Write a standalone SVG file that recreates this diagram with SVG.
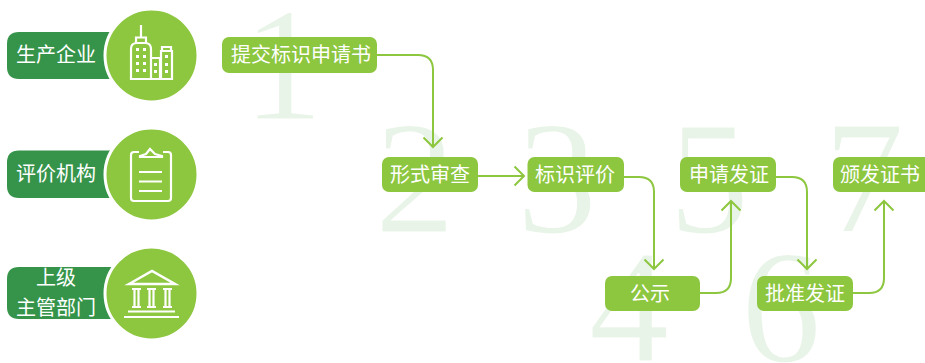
<svg xmlns="http://www.w3.org/2000/svg" width="925" height="363" viewBox="0 0 925 363">
<defs>
<style>
.d{font-family:"Liberation Serif",serif;font-size:161px;fill:#e9f4e8;stroke:#fff;stroke-width:1.2px;text-anchor:middle}
.t{font-family:"Noto Sans CJK SC","Noto Sans",sans-serif;font-size:20px;fill:#fff;text-anchor:middle}
.b{fill:#8dc63f}
.p{fill:#35944a}
.c{fill:#8dc63f;stroke:#fff;stroke-width:3}
.i{fill:none;stroke:#fff;stroke-width:2.200}
.w{fill:#fff}
.l{fill:none;stroke:#8dc63f;stroke-width:2}
</style>
<marker id="a" viewBox="-11 -11 13 22" markerUnits="userSpaceOnUse" markerWidth="13" markerHeight="22" refX="0" refY="0" orient="auto" overflow="visible">
<path d="M-9.500-9.500L0 0L-9.500 9.500" fill="none" stroke="#8dc63f" stroke-width="2"/>
</marker>
</defs>
<rect width="925" height="363" fill="#fff"/>
<g id="digits">
<text class="d" x="283" y="119">1</text>
<text class="d" x="415" y="232">2</text>
<text class="d" x="557" y="232">3</text>
<text class="d" x="629" y="361">4</text>
<text class="d" x="709" y="232">5</text>
<text class="d" x="781" y="361">6</text>
<text class="d" x="864" y="232">7</text>
</g>
<g id="connectors">
<path class="l" marker-end="url(#a)" d="M377 55H418Q433 55 433 70V147"/>
<path class="l" marker-end="url(#a)" d="M478 176H524"/>
<path class="l" marker-end="url(#a)" d="M624 177H639Q654 177 654 192V269"/>
<path class="l" marker-end="url(#a)" d="M700 293H716Q731 293 731 278V201"/>
<path class="l" marker-end="url(#a)" d="M776 177H792Q807 177 807 192V269"/>
<path class="l" marker-end="url(#a)" d="M853 293H869Q884 293 884 278V201"/>
</g>
<g id="org1">
<path class="p" d="M19 32H125V79H19Q7 79 7 67V44Q7 32 19 32Z"/>
<text class="t" x="56" y="62">生产企业</text>
<circle class="c" cx="151.500" cy="55.500" r="46.500"/>
<g class="i">
<path d="M141 25V37M136 43V37.500H146V43"/>
<path d="M131 79V49Q131 43 137 43H145Q151 43 151 49V79Z"/>
<path d="M151 58H160V79M161 79V51H172V79H131M162 51V47H171V51"/>
</g>
<g class="w">
<rect x="136" y="48" width="3" height="3"/><rect x="143" y="48" width="3" height="3"/>
<rect x="136" y="55" width="3" height="3"/><rect x="143" y="55" width="3" height="3"/>
<rect x="136" y="62" width="3" height="3"/><rect x="143" y="62" width="3" height="3"/>
<rect x="136" y="69" width="3" height="3"/><rect x="143" y="69" width="3" height="3"/>
<rect x="154" y="63" width="3" height="3"/><rect x="154" y="70" width="3" height="3"/>
<rect x="165" y="55" width="3" height="3"/><rect x="165" y="63" width="3" height="3"/><rect x="165" y="70" width="3" height="3"/>
</g>
</g>
<g id="org2">
<path class="p" d="M19 150.500H125V198H19Q7 198 7 186V162.500Q7 150.500 19 150.500Z"/>
<text class="t" x="56" y="181">评价机构</text>
<circle class="c" cx="151.500" cy="174.500" r="46.500"/>
<g class="i">
<path d="M139 152H134Q131 152 131 155V198Q131 201 134 201H168Q171 201 171 198V155Q171 152 168 152H163"/>
<path d="M140 156L146 154L150 149L155 154L162 156L162 157H140Z"/>
<path d="M139 172H162M139 181.500H162M139 191H162"/>
</g>
</g>
<g id="org3">
<path class="p" d="M19 267H125V319H19Q7 319 7 307V279Q7 267 19 267Z"/>
<text class="t" x="56" y="285">上级</text>
<text class="t" x="56" y="315">主管部门</text>
<circle class="c" cx="151.500" cy="293.500" r="46.500"/>
<g class="i">
<path d="M129 284L152 271L175 284Z" stroke-width="2.500"/>
<path d="M132 289H141M147 289H156M163 289H172M132 307H141M147 307H156M163 307H172"/>
<path d="M134.500 288V308M138.500 288V308M149.500 288V308M153.500 288V308M165.500 288V308M169.500 288V308"/>
<path d="M128 311.500H175M124 317H179"/>
</g>
</g>
<g id="s1"><rect class="b" x="222" y="37" width="155" height="36" rx="7"/><text class="t" x="301" y="62">提交标识申请书</text></g>
<g id="s2"><rect class="b" x="382" y="157" width="96" height="35" rx="7"/><text class="t" x="430" y="182">形式审查</text></g>
<g id="s3"><rect class="b" x="527.500" y="157" width="96.500" height="35" rx="7"/><text class="t" x="575" y="182">标识评价</text></g>
<g id="s4"><rect class="b" x="605" y="276" width="95" height="35" rx="7"/><text class="t" x="650" y="301">公示</text></g>
<g id="s5"><rect class="b" x="680" y="157" width="96" height="35" rx="7"/><text class="t" x="729" y="182">申请发证</text></g>
<g id="s6"><rect class="b" x="757" y="276" width="96" height="35" rx="7"/><text class="t" x="805" y="301">批准发证</text></g>
<g id="s7"><rect class="b" x="833" y="157" width="100" height="35" rx="7"/><text class="t" x="880" y="182">颁发证书</text></g>
</svg>
